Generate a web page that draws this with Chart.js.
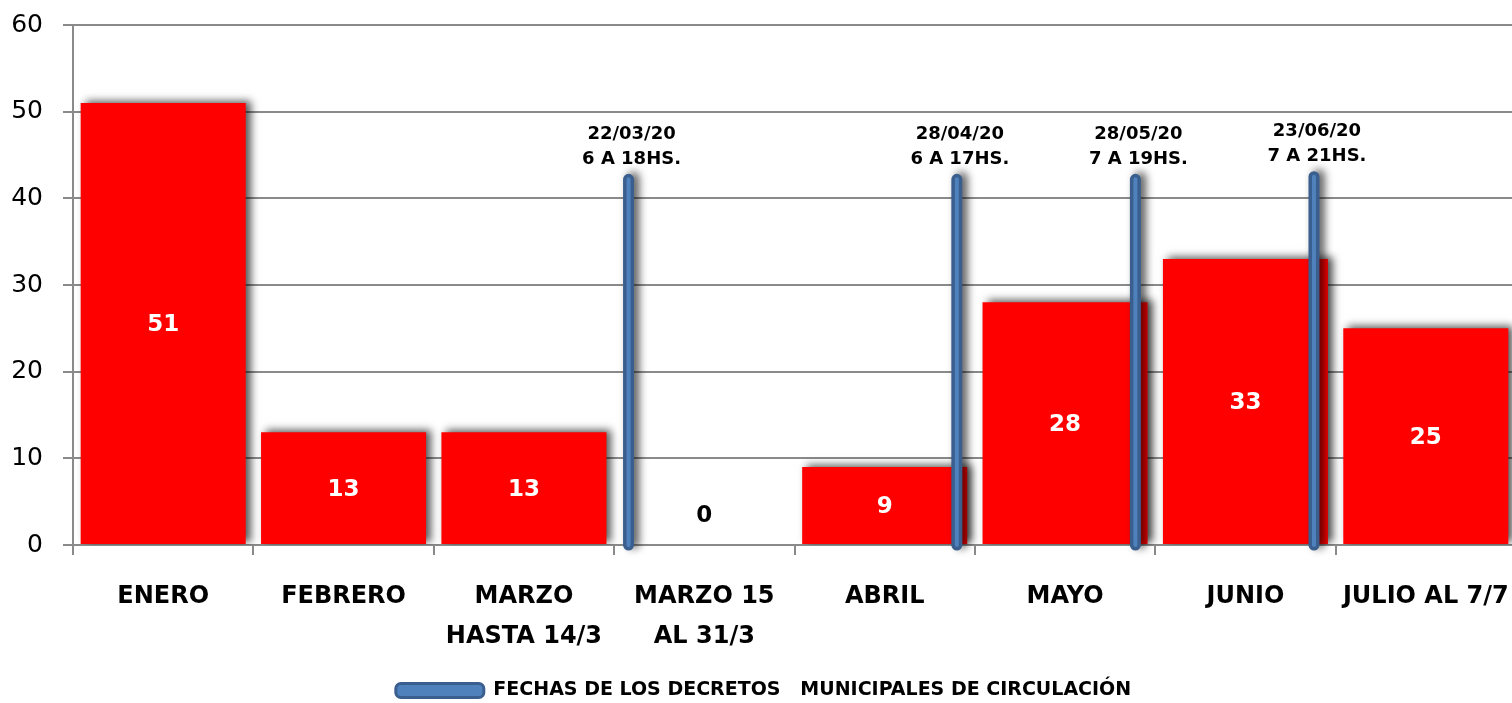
<!DOCTYPE html>
<html>
<head>
<meta charset="utf-8">
<script src="https://cdn.jsdelivr.net/npm/chart.js@4"></script>
<style>
  html, body { margin: 0; padding: 0; background: #fff; overflow: hidden; }
  #wrap { width: 1516px; height: 703px; }
</style>
</head>
<body>
<div id="wrap"><canvas id="chart1"></canvas></div>
<script>
// datos
var categorias = [['ENERO'], ['FEBRERO'], ['MARZO', 'HASTA 14/3'], ['MARZO 15', 'AL 31/3'], ['ABRIL'], ['MAYO'], ['JUNIO'], ['JULIO AL 7/7']];
var valores = [51, 13, 13, 0, 9, 28, 33, 25];
var ticksY = [0, 10, 20, 30, 40, 50, 60];

// decretos (posicion en unidades de categoria)
var decretoPos = [3.08, 4.9, 5.89, 6.88];
var decretoAlto = [42.2, 42.2, 42.2, 42.5];
var decretoFecha = ['22/03/20', '28/04/20', '28/05/20', '23/06/20'];
var decretoHorario = ['6 A 18HS.', '6 A 17HS.', '7 A 19HS.', '7 A 21HS.'];
var serieNombre = 'FECHAS DE LOS DECRETOS   MUNICIPALES DE CIRCULACIÓN';

var puntosDecretos = [];
decretoPos.forEach(function (p, i) {
    puntosDecretos.push({ x: p, y: 0 });
    puntosDecretos.push({ x: p, y: decretoAlto[i] });
    puntosDecretos.push({ x: p, y: null });
});

var fuente = 'DejaVu Sans';

var sombra = {
    id: 'sombra',
    beforeDatasetDraw: function (chart, args) {
        if (args.index === 2) return;
        var ctx = chart.ctx;
        ctx.save();
        ctx.shadowColor = 'rgba(0,0,0,0.65)';
        ctx.shadowBlur = 8;
        ctx.shadowOffsetX = 5;
        ctx.shadowOffsetY = -2;
    },
    afterDatasetDraw: function (chart, args) {
        if (args.index === 2) return;
        chart.ctx.restore();
    }
};

var etiquetas = {
    id: 'etiquetas',
    afterDatasetsDraw: function (chart) {
        var ctx = chart.ctx;
        var meta = chart.getDatasetMeta(0);
        ctx.save();
        ctx.textAlign = 'center';
        ctx.textBaseline = 'middle';
        ctx.font = 'bold 23px "' + fuente + '"';
        meta.data.forEach(function (bar, i) {
            if (valores[i] === 0) {
                ctx.fillStyle = '#000';
                ctx.fillText('0', bar.x, bar.base - 29);
            } else {
                ctx.fillStyle = '#fff';
                ctx.fillText(String(valores[i]), bar.x, (bar.y + bar.base) / 2 + 2);
            }
        });
        var xs = chart.scales.xl, ys = chart.scales.y;
        ctx.fillStyle = '#000';
        ctx.font = 'bold 18px "' + fuente + '"';
        decretoPos.forEach(function (p, i) {
            var px = xs.getPixelForValue(p);
            var top = ys.getPixelForValue(decretoAlto[i]);
            ctx.fillText(decretoFecha[i], px + 3, top - 45);
            ctx.fillText(decretoHorario[i], px + 3, top - 20);
        });
        ctx.restore();
    }
};

var myChart = document.getElementById('chart1').getContext('2d');
var decretosChart = new Chart(myChart, {
    type: 'bar',
    data: {
        labels: categorias,
        datasets: [{
            label: 'Valores',
            data: valores,
            backgroundColor: '#ff0000',
            borderWidth: 0,
            grouped: false,
            categoryPercentage: 1,
            barPercentage: 0.915,
            order: 3
        }, {
            type: 'line',
            label: serieNombre,
            data: puntosDecretos,
            xAxisID: 'xl',
            borderColor: '#3a5f8f',
            borderWidth: 11,
            borderCapStyle: 'round',
            pointRadius: 0,
            spanGaps: false,
            clip: false,
            order: 2
        }, {
            type: 'line',
            label: 'interior',
            data: puntosDecretos,
            xAxisID: 'xl',
            borderColor: '#4f81bd',
            borderWidth: 4,
            borderCapStyle: 'round',
            pointRadius: 0,
            spanGaps: false,
            clip: false,
            order: 1
        }]
    },
    options: {
        responsive: true,
        maintainAspectRatio: false,
        animation: false,
        layout: { padding: { top: 25, left: 11, right: 0, bottom: -7 } },
        plugins: {
            tooltip: { enabled: false },
            legend: {
                position: 'bottom',
                labels: {
                    boxWidth: 88,
                    boxHeight: 14,
                    padding: 6,
                    useBorderRadius: true,
                    borderRadius: 5,
                    color: '#000',
                    font: { family: fuente, weight: 'bold', size: 19 },
                    generateLabels: function () {
                        return [{
                            text: serieNombre,
                            fillStyle: '#4f81bd',
                            strokeStyle: '#3a5f8f',
                            lineWidth: 3,
                            borderRadius: 5,
                            datasetIndex: 1,
                            fontColor: '#000'
                        }];
                    }
                }
            }
        },
        scales: {
            x: {
                offset: true,
                grid: {
                    offset: true,
                    drawOnChartArea: false,
                    color: '#8a8a8a',
                    lineWidth: 2,
                    tickLength: 10
                },
                border: { display: false },
                ticks: {
                    color: '#000',
                    padding: 22,
                    maxRotation: 0,
                    autoSkip: false,
                    font: { family: fuente, weight: 'bold', size: 24, lineHeight: 1.65 }
                },
                afterFit: function (s) {
                    s.height = 130;
                    s.paddingLeft = 0;
                    s.paddingRight = 0;
                }
            },
            xl: {
                type: 'linear',
                display: false,
                offset: false,
                min: 0,
                max: 8
            },
            y: {
                min: 0,
                max: 60,
                afterBuildTicks: function (s) {
                    s.ticks = ticksY.map(function (v) { return { value: v }; });
                },
                afterFit: function (s) {
                    s.width = 62;
                    s.paddingTop = 12;
                    s.paddingBottom = 12;
                },
                grid: { color: '#8a8a8a', lineWidth: 2, tickLength: 10 },
                border: { color: '#8a8a8a', width: 2 },
                ticks: {
                    color: '#000',
                    padding: 20,
                    font: { family: fuente, size: 25 }
                }
            }
        }
    },
    plugins: [sombra, etiquetas]
});
</script>
</body>
</html>
